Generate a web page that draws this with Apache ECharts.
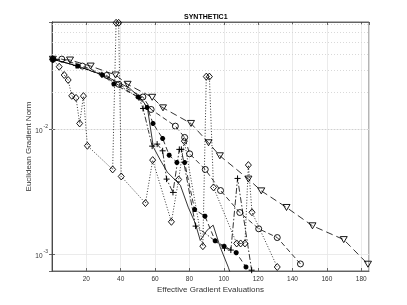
<!DOCTYPE html>
<html><head><meta charset="utf-8">
<script src="https://cdn.jsdelivr.net/npm/echarts@6/dist/echarts.min.js"></script>
<style>html,body{margin:0;padding:0;background:#fff}#c{width:407px;height:305px}</style>
</head><body><div id="c"></div>
<script>
// ---- data ----
const triX = [0.5, 10.5, 22.5, 37.0, 44.0, 58.3, 64.6, 80.9, 91.1, 97.7, 114.3, 121.8, 136.5, 151.6, 169.8, 183.9];
const triY = [0.0365, 0.0360, 0.0322, 0.0273, 0.0230, 0.0181, 0.0149, 0.01117, 0.00782, 0.00615, 0.0040, 0.00322, 0.00237, 0.00169, 0.00131, 0.000832];

const cirX = [0.5, 5.7, 17.7, 31.8, 38.9, 52.9, 57.7, 71.8, 77.2, 80.1, 89.2, 98.1, 109.3, 120.3, 131.1, 144.6];
const cirY = [0.0365, 0.0366, 0.0322, 0.0271, 0.0230, 0.0182, 0.01446, 0.01063, 0.00863, 0.00638, 0.00478, 0.00324, 0.00216, 0.00160, 0.00136, 0.000836];

const diaX = [0.5, 4.2, 7.1, 9.4, 11.5, 14.0, 16.1, 18.3, 20.6, 35.3, 37.3, 38.8, 40.3, 54.4, 58.6, 69.5, 73.7, 77.0, 87.8, 89.8, 91.6, 94.0, 107.5, 109.8, 112.3, 114.3, 116.4, 131.1];
const diaY = [0.0365, 0.0318, 0.0273, 0.0249, 0.0186, 0.0179, 0.01117, 0.0185, 0.0074, 0.00478, 0.0715, 0.0715, 0.0042, 0.00257, 0.00568, 0.00182, 0.00397, 0.00806, 0.00116, 0.0265, 0.0265, 0.00343, 0.00122, 0.00122, 0.00122, 0.00518, 0.00217, 0.00079];

const plusX = [0.5, 14.0, 29.0, 50.5, 53.0, 58.3, 61.2, 64.4, 66.7, 70.4, 74.1, 75.3, 83.6, 100.4, 104.1, 108.0, 116.2];
const plusY = [0.0365, 0.0325, 0.0274, 0.0180, 0.01473, 0.00735, 0.00763, 0.00674, 0.0040, 0.00313, 0.00692, 0.00692, 0.00168, 0.00112, 0.00108, 0.00405, 0.000745];

const starX = [0.5, 15.0, 29.3, 36.0, 50.1, 55.4, 58.8, 64.4, 68.2, 72.7, 77.2, 83.0, 89.0, 95.0, 100.2, 107.2, 112.9];
const starY = [0.0365, 0.0322, 0.0273, 0.0231, 0.0182, 0.0150, 0.01117, 0.00847, 0.00622, 0.00543, 0.00543, 0.00228, 0.00202, 0.00128, 0.00116, 0.00103, 0.00079];

const solX = [0.5, 15, 30, 45, 52, 55.5, 59.0, 63.0, 67.1, 74.7, 79.3, 83.4, 86.3, 90.3, 93.8, 97.9, 102.6, 104.5];
const solY = [0.0365, 0.0322, 0.0272, 0.0215, 0.0175, 0.0150, 0.00721, 0.0057, 0.00455, 0.00357, 0.00238, 0.00177, 0.00129, 0.00156, 0.00171, 0.00114, 0.000787, 0.00066];

const minorGrid = [8e-4, 9e-4, 2e-3, 3e-3, 4e-3, 5e-3, 6e-3, 7e-3, 8e-3, 9e-3, 2e-2, 3e-2, 4e-2, 5e-2, 6e-2, 7e-2];

const X_MIN = 0, X_MAX = 184.5, Y_MIN = 7.34e-4, Y_MAX = 0.0726;
// -------------------------------------

const zip = (xs, ys) => xs.map((x, i) => [x, ys[i]]);
const chart = echarts.init(document.getElementById('c'), null, {renderer: 'canvas'});
const F = 'Liberation Sans, Arial, Helvetica, sans-serif';
const open = {color: 'rgba(0,0,0,0)', borderColor: '#000', borderWidth: 0.9};
const lineBase = (data, type, extra) => Object.assign({
  type: 'line', data, xAxisIndex: 0, yAxisIndex: 0, z: 3,
  lineStyle: {color: '#000', width: 0.8, type},
  animation: false, silent: true
}, extra);

const fmtY = v => {
  const e = Math.log10(v);
  const r = Math.round(e);
  if (Math.abs(e - r) > 1e-6) return '';
  return '{b|10}{s|' + r + '}';
};

chart.setOption({
  backgroundColor: '#fff',
  animation: false,
  title: {text: 'SYNTHETIC1', left: 179, top: 9,
    textStyle: {fontFamily: F, fontSize: 7, fontWeight: 'bold', color: '#000'}},
  grid: {left: 52, right: 38, top: 22, bottom: 34, show: true, borderColor: '#444', borderWidth: 0.8},
  xAxis: [{
    type: 'value', min: X_MIN, max: X_MAX, interval: 20,
    name: 'Effective Gradient Evaluations', nameLocation: 'middle', nameGap: 15, nameMoveOverlap: false,
    nameTextStyle: {fontFamily: F, fontSize: 8, color: '#333'},
    axisLine: {show: true, lineStyle: {color: '#444', width: 0.8}},
    axisTick: {show: true, inside: true, length: 3, lineStyle: {color: '#444', width: 0.8}},
    axisLabel: {fontFamily: F, fontSize: 6.5, color: '#333', margin: 5, showMinLabel: false, showMaxLabel: false},
    splitLine: {show: true, lineStyle: {color: '#e6e6e6', width: 0.8}}
  }, {
    type: 'value', position: 'top', min: X_MIN, max: X_MAX, interval: 20,
    axisLine: {show: true, lineStyle: {color: '#444', width: 0.8}},
    axisTick: {show: true, inside: true, length: 3, lineStyle: {color: '#444', width: 0.8}},
    axisLabel: {show: false}, splitLine: {show: false}
  }],
  yAxis: [{
    type: 'log', logBase: 10, min: Y_MIN, max: Y_MAX,
    name: 'Euclidean Gradient Norm', nameLocation: 'middle', nameGap: 19, nameMoveOverlap: false,
    nameTextStyle: {fontFamily: F, fontSize: 8, color: '#333'},
    axisLine: {show: true, lineStyle: {color: '#444', width: 0.8}},
    axisTick: {show: true, inside: true, length: 3, lineStyle: {color: '#444', width: 0.8}},
    axisLabel: {formatter: fmtY, margin: 4, showMinLabel: false, showMaxLabel: false,
      rich: {b: {fontFamily: F, fontSize: 6.5, color: '#333', lineHeight: 10, verticalAlign: 'bottom'},
             s: {fontFamily: F, fontSize: 5, color: '#333', lineHeight: 10, verticalAlign: 'top', padding: [0, 0, 0, 1]}}},
    splitLine: {show: true, lineStyle: {color: '#e6e6e6', width: 0.8}}
  }, {
    type: 'log', logBase: 10, min: Y_MIN, max: Y_MAX, position: 'right',
    axisLine: {show: true, lineStyle: {color: '#444', width: 0.8}},
    axisTick: {show: true, inside: true, length: 3, lineStyle: {color: '#444', width: 0.8}},
    axisLabel: {show: false}, splitLine: {show: false}
  }],
  series: [
    {type: 'line', data: [], xAxisIndex: 0, yAxisIndex: 0, z: 1, silent: true, animation: false,
      markLine: {silent: true, symbol: 'none', label: {show: false}, animation: false,
        lineStyle: {color: '#cfcfcf', width: 0.8, type: [1, 2]},
        data: minorGrid.map(v => ({yAxis: v}))}},
    lineBase(zip(solX, solY), 'solid', {symbol: 'none'}),
    lineBase(zip(triX, triY), [7, 4], {symbol: 'triangle', symbolRotate: 180, symbolSize: [7, 6], itemStyle: open, showAllSymbol: true}),
    lineBase(zip(cirX, cirY), [5, 3], {symbol: 'circle', symbolSize: 6, itemStyle: open, showAllSymbol: true}),
    lineBase(zip(diaX, diaY), [1, 1.8], {symbol: 'diamond', symbolSize: [6, 7], itemStyle: open, showAllSymbol: true}),
    lineBase(zip(plusX, plusY), [6, 2, 1.5, 2], {symbol: 'path://M0,5L10,5M5,0L5,10', symbolSize: 6, symbolKeepAspect: true,
      itemStyle: {color: 'rgba(0,0,0,0)', borderColor: '#000', borderWidth: 1}, showAllSymbol: true}),
    lineBase(zip(starX, starY), [5, 3], {symbol: 'path://M5,0L5,10M0,5L10,5M1.5,1.5L8.5,8.5M8.5,1.5L1.5,8.5', symbolSize: 5,
      itemStyle: {color: 'rgba(0,0,0,0)', borderColor: '#000', borderWidth: 1.6}, showAllSymbol: true})
  ]
});
</script>
</body></html>
